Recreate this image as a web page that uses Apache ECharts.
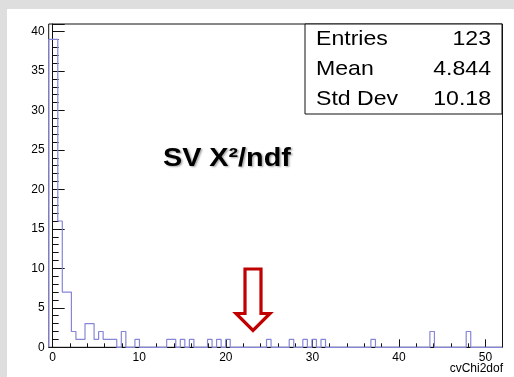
<!DOCTYPE html>
<html>
<head>
<meta charset="utf-8">
<script src="https://cdn.jsdelivr.net/npm/echarts@6/dist/echarts.min.js"></script>
<style>
  html, body { margin: 0; padding: 0; }
  #outer { position: relative; width: 514px; height: 377px; background: #dedede; overflow: hidden; }
  #paper { position: absolute; left: 7px; top: 9px; width: 507px; height: 368px; background: #ffffff; }
  #chart { position: absolute; left: 0; top: 0; width: 514px; height: 377px; }
</style>
</head>
<body>
<div id="outer"><div id="paper"></div><div id="chart"></div></div>
<script>
// ---- data ----
const histMin = -0.46;
const histMax = 51.96;
const counts = [
  39, 39, 16, 7, 7, 2, 1, 1, 3, 3,
  1, 2, 1, 1, 1, 0, 2, 0, 0, 1,
  0, 0, 0, 0, 0, 0, 1, 1, 0, 1,
  0, 1, 0, 0, 0, 1, 0, 1, 0, 1,
  0, 0, 0, 0, 0, 0, 0, 0, 1, 0,
  0, 0, 0, 1, 0, 0, 1, 0, 1, 0,
  1, 0, 0, 0, 0, 0, 0, 0, 0, 0,
  0, 1, 0, 0, 0, 0, 0, 0, 0, 0,
  0, 0, 0, 0, 2, 0, 0, 0, 0, 0,
  0, 0, 2, 0, 0, 0, 0, 0, 0, 0
];
const xMajorTicks = [0, 10, 20, 30, 40, 50];
const xMinorTicks = [2, 4, 6, 8, 12, 14, 16, 18, 22, 24, 26, 28, 32, 34, 36, 38, 42, 44, 46, 48];
const yMax = 40.95;
const statNames = ['Entries', 'Mean', 'Std Dev'];
const statValues = ['123', '4.844', '10.18'];
const titleText = 'SV X\u00B2/ndf';
const xAxisTitle = 'cvChi2dof';

// ---- build step outline from bins ----
const nBins = counts.length;
const binW = (histMax - histMin) / nBins;
const pts = [[histMin, 0]];
for (let i = 0; i < nBins; i++) pts.push([histMin + i * binW, counts[i]]);
pts.push([histMax, counts[nBins - 1]]);

const font = 'Liberation Sans, Arial, Helvetica, sans-serif';
const chart = echarts.init(document.getElementById('chart'), null, { renderer: 'canvas' });

const G = { left: 48.7, right: 11.5, top: 24, bottom: 29.7 };
const boxL = 305, boxR = 502, boxT = 24, boxB = 114;
const rowH = (boxB - boxT) / statNames.length;

const graphics = [
  { type: 'rect', shape: { x: boxL, y: boxT, width: boxR - boxL, height: boxB - boxT },
    style: { fill: '#fff', stroke: '#111', lineWidth: 1 }, z: 100 }
];
statNames.forEach((n, i) => {
  const cy = boxT + rowH * (i + 0.5);
  graphics.push({ type: 'text', x: 316, y: cy, scaleX: 1.1, z: 101,
    style: { text: n, font: '21px ' + font, fill: '#000', align: 'left', verticalAlign: 'middle' } });
  graphics.push({ type: 'text', x: 491, y: cy, scaleX: 1.1, z: 101,
    style: { text: statValues[i], font: '21px ' + font, fill: '#000', align: 'right', verticalAlign: 'middle' } });
});
graphics.push({ type: 'text', x: 163, y: 159, scaleX: 1.15, z: 101,
  style: { text: titleText, font: 'bold 25px ' + font, fill: '#000', align: 'left', verticalAlign: 'middle',
    textShadowColor: 'rgba(0,0,0,0.35)', textShadowBlur: 2, textShadowOffsetX: 1.5, textShadowOffsetY: 1.5 } });
graphics.push({ type: 'text', x: 503, y: 369, z: 101,
  style: { text: xAxisTitle, font: '12px ' + font, fill: '#000', align: 'right', verticalAlign: 'middle' } });
graphics.push({ type: 'polygon', z: 101,
  shape: { points: [[245, 269], [261, 269], [261, 313.5], [270, 313.5], [253, 330.5], [236, 313.5], [245, 313.5]] },
  style: { fill: 'none', stroke: '#c00000', lineWidth: 3.2, lineJoin: 'miter' } });

const option = {
  animation: false,
  backgroundColor: 'transparent',
  grid: { left: G.left, right: G.right, top: G.top, bottom: G.bottom, show: true,
    borderColor: '#111', borderWidth: 1, backgroundColor: 'transparent' },
  xAxis: [
    { type: 'value', min: histMin, max: histMax, position: 'bottom',
      axisLine: { show: true, onZero: false, lineStyle: { color: '#111', width: 1 } },
      axisTick: { show: true, inside: true, length: 8, customValues: xMajorTicks, lineStyle: { color: '#111' } },
      axisLabel: { show: true, customValues: xMajorTicks, margin: 4, fontSize: 12, fontFamily: font, color: '#000' },
      splitLine: { show: false } },
    { type: 'value', min: histMin, max: histMax, position: 'bottom', gridIndex: 0,
      axisLine: { show: false },
      axisTick: { show: true, inside: true, length: 4, customValues: xMinorTicks, lineStyle: { color: '#111' } },
      axisLabel: { show: false },
      splitLine: { show: false } }
  ],
  yAxis: {
    type: 'value', min: 0, max: yMax, interval: 5,
    axisLine: { show: true, lineStyle: { color: '#111', width: 1 } },
    axisTick: { show: true, inside: true, length: 12, lineStyle: { color: '#111' } },
    minorTick: { show: true, splitNumber: 5, length: 6, lineStyle: { color: '#111' } },
    axisLabel: { margin: 4, fontSize: 12, fontFamily: font, color: '#000', showMaxLabel: false },
    splitLine: { show: false }
  },
  series: [{
    type: 'line', xAxisIndex: 0, data: pts, step: 'end', showSymbol: false, symbol: 'none',
    lineStyle: { color: '#8686d8', width: 1.2 }, z: 5
  }],
  graphic: graphics
};
chart.setOption(option);
</script>
</body>
</html>
